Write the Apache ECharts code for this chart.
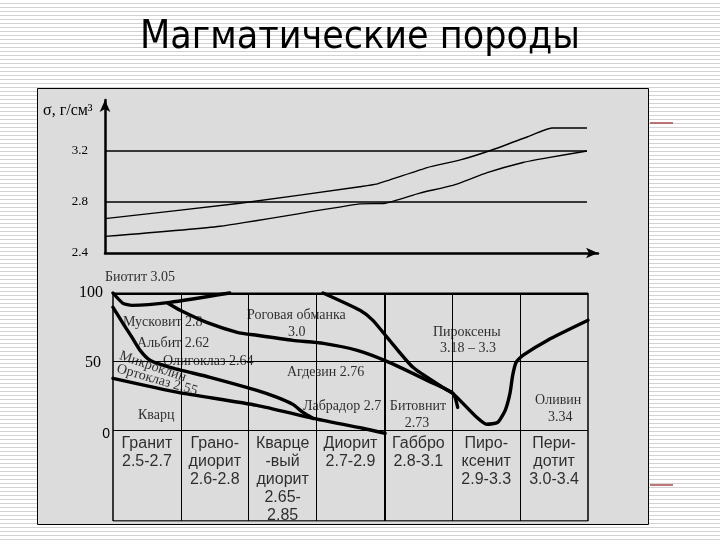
<!DOCTYPE html>
<html><head><meta charset="utf-8">
<script src="https://cdn.jsdelivr.net/npm/echarts@6/dist/echarts.min.js"></script>
<style>
html,body{margin:0;padding:0;}
body{background:repeating-linear-gradient(to bottom,#ffffff 0px,#ffffff 3px,#d2d2d2 3px,#d2d2d2 4px);}
#c{width:720px;height:540px;}
</style></head><body><div id="c"></div>
<script>
// ---------- data ----------
const titleText = 'Магматические породы';
const densityAxisName = 'σ, г/см³';

// upper chart (density, g/cm3) – x in rock-column units
const topTickValues = [2.4, 2.8, 3.2];
const topGuideLevels = [3.2, 2.8];
const topUpperX = [0, 1.96, 3.7, 3.94, 4.68, 5.16, 5.63, 6.13, 6.49, 7.0];
const topUpperY = [2.67, 2.79, 2.92, 2.94, 3.07, 3.13, 3.21, 3.31, 3.38, 3.38];
const topLowerX = [0, 1.67, 3.7, 4.07, 4.57, 5.05, 5.55, 6.07, 6.46, 7.0];
const topLowerY = [2.53, 2.61, 2.785, 2.79, 2.87, 2.93, 3.03, 3.11, 3.15, 3.2];

// lower chart (mineral content, %) – x in rock-column units
const pctTicks = [0, 50, 100];
const biotiteX = [0, 0.147, 0.28, 0.84, 1.72];
const biotiteY = [100, 92.5, 91.0, 93.2, 100];
const muscoviteX = [0.81, 0.99, 1.38, 1.83, 2.12, 2.65, 3.10, 3.60, 4.07, 4.63, 5.01, 5.08];
const muscoviteY = [92.5, 87.4, 78.6, 71.4, 69.2, 65.5, 63.3, 58.2, 49.5, 36.4, 26.9, 16.7];
const pyroxeneX = [3.095, 3.64, 3.83, 4.04, 4.42, 4.86, 5.01, 5.36, 5.51, 5.67, 5.78, 5.85, 5.89, 5.94, 6.04, 6.40, 7.0];
const pyroxeneY = [100, 87.4, 80.1, 67.7, 45.9, 31.3, 26.9, 9.5, 4.4, 5.8, 14.6, 26.9, 40.0, 49.5, 54.6, 65.5, 80.1];
const albiteX = [0, 0.147, 0.28, 0.40, 0.545, 0.84, 1.43, 2.12, 2.42, 2.65, 2.80, 2.95];
const albiteY = [89.6, 77.9, 67.7, 58.2, 51.0, 45.9, 38.6, 29.1, 24.0, 18.9, 13.1, 8.7];
const orthoclaseX = [0, 0.96, 2.12, 2.95, 3.68, 4.01];
const orthoclaseY = [37.9, 27.7, 18.2, 8.7, 1.5, -2.2];

const mineralTexts = ['Биотит 3.05', 'Мусковит 2.8', 'Альбит 2.62', 'Олигоклаз 2.64', 'Микроклин', 'Ортоклаз 2.55',
  'Кварц', 'Роговая обманка', '3.0', 'Агдезин 2.76', 'Лабрадор 2.7', 'Битовнит', '2.73', 'Пироксены', '3.18 – 3.3', 'Оливин', '3.34'];
const mineralX = [-0.118, 0.147, 0.354, 0.737, 0.103, 0.059, 0.368, 1.975, 2.58, 2.564, 2.80, 4.08, 4.30, 4.716, 4.82, 6.22, 6.41];
const mineralY = [111.4, 78.6, 63.3, 50.2, 54.6, 45.1, 10.9, 83.7, 71.4, 42.2, 17.5, 17.5, 5.1, 71.4, 59.7, 21.8, 9.5];
const mineralRotate = [0, 0, 0, 0, -19, -16, 0, 0, 0, 0, 0, 0, 0, 0, 0, 0, 0];

const rockNames = ['Гранит\n2.5-2.7', 'Грано-\nдиорит\n2.6-2.8', 'Кварце\n-вый\nдиорит\n2.65-\n2.85', 'Диорит\n2.7-2.9',
  'Габбро\n2.8-3.1', 'Пиро-\nксенит\n2.9-3.3', 'Пери-\nдотит\n3.0-3.4'];
const columnBounds = [0, 1, 2, 3, 4, 5, 6, 7];
const rowLevels = [100, 50, 0, -66];

// ---------- helpers ----------
const zip = (xs, ys) => xs.map((x, i) => [x, ys[i]]);
const serif = "'Liberation Serif','DejaVu Serif',serif";
const sans = "'Liberation Sans',Arial,sans-serif";

const chart = echarts.init(document.getElementById('c'), null, {renderer: 'canvas'});

const curve = (data, w) => ({
  type: 'line', xAxisIndex: 1, yAxisIndex: 1, data, showSymbol: false, smooth: 0.2, clip: false,
  lineStyle: {color: '#000', width: w, cap: 'round', join: 'round'}, z: 4, silent: true
});
const thinCurve = (data) => ({
  type: 'line', xAxisIndex: 0, yAxisIndex: 0, data, showSymbol: false, smooth: 0.15,
  lineStyle: {color: '#000', width: 1.4}, z: 4, silent: true
});

const vWidths = [1.5, 1, 1, 1, 2, 1, 1, 1.5];
const hWidths = [3, 1, 1, 1.5];
const tableLines = [];
columnBounds.forEach((x, i) => tableLines.push({coords: [[x, rowLevels[0]], [x, rowLevels[rowLevels.length - 1]]], lineStyle: {width: vWidths[i]}}));
rowLevels.forEach((y, i) => tableLines.push({coords: [[columnBounds[0], y], [columnBounds[columnBounds.length - 1], y]], lineStyle: {width: hWidths[i]}}));

const option = {
  backgroundColor: 'transparent',
  animation: false,
  title: {text: titleText, left: 'center', top: 13,
    textStyle: {fontSize: 39, fontWeight: 'normal', color: '#000', fontFamily: "'DejaVu Sans Condensed','DejaVu Sans',sans-serif"}},
  graphic: [
    {type: 'rect', shape: {x: 37.5, y: 88.5, width: 611, height: 436}, style: {fill: '#dcdcdc', stroke: '#000', lineWidth: 1}, z: -10, silent: true},
    {type: 'line', shape: {x1: 650, y1: 123, x2: 673, y2: 123}, style: {stroke: '#a84848', lineWidth: 1.5}, silent: true},
    {type: 'line', shape: {x1: 650, y1: 485, x2: 673, y2: 485}, style: {stroke: '#a84848', lineWidth: 1.5}, silent: true},
    {type: 'text', left: 43, top: 103, style: {text: densityAxisName, font: "16px " + serif, fill: '#000'}, silent: true}
  ],
  grid: [
    {left: 105, top: 100, width: 493, height: 153},
    {left: 113, top: 293, width: 475, height: 228}
  ],
  xAxis: [
    {type: 'value', gridIndex: 0, min: 0, max: 7.16,
      axisLine: {show: true, lineStyle: {color: '#000', width: 2.5}, symbol: ['none', 'arrow'], symbolSize: [8, 12]},
      axisTick: {show: false}, axisLabel: {show: false}, splitLine: {show: false}},
    {type: 'value', gridIndex: 1, min: 0, max: 7,
      axisLine: {show: false}, axisTick: {show: false}, axisLabel: {show: false}, splitLine: {show: false}}
  ],
  yAxis: [
    {type: 'value', gridIndex: 0, min: 2.4, max: 3.6, interval: 0.4,
      axisLine: {show: true, lineStyle: {color: '#000', width: 2.5}, symbol: ['none', 'arrow'], symbolSize: [8, 12]},
      axisTick: {show: false}, splitLine: {show: false},
      axisLabel: {show: true, margin: 17, color: '#000', fontFamily: serif, fontSize: 13, padding: [0, 0, 8, 0],
        formatter: v => topTickValues.some(t => Math.abs(t - v) < 1e-6) ? v.toFixed(1) : ''}},
    {type: 'value', gridIndex: 1, min: -66, max: 100,
      axisLine: {show: false}, axisTick: {show: false}, splitLine: {show: false},
      axisLabel: {show: true, customValues: pctTicks, margin: 3, color: '#000',
        formatter: v => v === 100 ? '{a|100}' : (v === 50 ? '{b|50}' : '{c|0}'),
        rich: {
          a: {fontFamily: serif, fontSize: 16, color: '#000', padding: [0, 7, 0, 0]},
          b: {fontFamily: serif, fontSize: 16, color: '#000', padding: [2, 9, 0, 0]},
          c: {fontFamily: sans, fontSize: 14, color: '#000', padding: [8, 0, 0, 0]}
        }}}
  ],
  series: [
    ...topGuideLevels.map(l => ({type: 'line', xAxisIndex: 0, yAxisIndex: 0, data: [[0, l], [7, l]], showSymbol: false,
      lineStyle: {color: '#000', width: 1.4}, silent: true, z: 3})),
    thinCurve(zip(topUpperX, topUpperY)),
    thinCurve(zip(topLowerX, topLowerY)),
    {type: 'lines', coordinateSystem: 'cartesian2d', xAxisIndex: 1, yAxisIndex: 1, polyline: false,
      lineStyle: {color: '#000', width: 1, opacity: 1}, data: tableLines, silent: true, z: 3},
    curve(zip(biotiteX, biotiteY), 3.4),
    curve(zip(muscoviteX, muscoviteY), 3.4),
    curve(zip(pyroxeneX, pyroxeneY), 3.4),
    curve(zip(albiteX, albiteY), 3.4),
    curve(zip(orthoclaseX, orthoclaseY), 3.4),
    {type: 'scatter', xAxisIndex: 1, yAxisIndex: 1, symbolSize: 0, clip: false, silent: true, z: 6,
      data: mineralTexts.map((t, i) => ({name: t, value: [mineralX[i], mineralY[i]], label: {rotate: mineralRotate[i]}})),
      label: {show: true, position: 'right', distance: 0, formatter: '{b}', color: '#000', fontFamily: serif, fontSize: 14}},
    {type: 'scatter', xAxisIndex: 1, yAxisIndex: 1, symbolSize: 0, clip: false, silent: true, z: 6,
      data: rockNames.map((t, i) => ({name: t, value: [columnBounds[i] + 0.5, 0]})),
      label: {show: true, position: 'bottom', distance: 4, formatter: '{b}', color: '#000', fontFamily: sans, fontSize: 16, lineHeight: 18, align: 'center'}}
  ]
};
chart.setOption(option);
</script></body></html>
